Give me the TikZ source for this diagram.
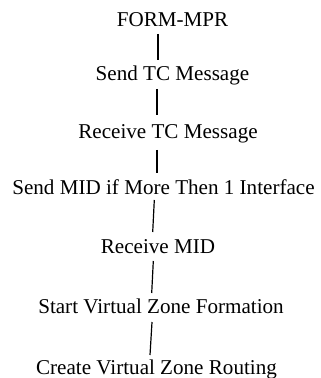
\documentclass[tikz,border=0pt]{standalone}
\usepackage{fontspec}
\setmainfont{Liberation Serif}
\begin{document}
\begin{tikzpicture}[x=.5pt,y=-.5pt,
        stage/.style={anchor=base,inner sep=0pt,font=\fontsize{10.55}{12}\selectfont},
        link/.style={line width=.6pt}]
                \useasboundingbox (0,0) rectangle (320,378);
                \node[stage] (form) at (172.5,27) {FORM-MPR};
                \node[stage] (sendtc) at (172.5,81) {Send TC Message};
                \node[stage] (recvtc) at (168,139) {Receive TC Message};
                \node[stage] (sendmid) at (163.5,195) {Send MID if More Then 1 Interface};
                \node[stage] (recvmid) at (158,253) {Receive MID};
                \node[stage] (zone) at (161,313) {Start Virtual Zone Formation};
                \node[stage] (routing) at (156.5,374) {Create Virtual Zone Routing};
                \draw[link] ([shift={(-14.5,7)}]form.base) -- ([shift={(-14.5,-21)}]sendtc.base);
                \draw[link] ([shift={(-15.5,8)}]sendtc.base) -- ([shift={(-11,-24)}]recvtc.base);
                \draw[link] ([shift={(-11,11)}]recvtc.base) -- ([shift={(-6.5,-22)}]sendmid.base);
                \draw[link] ([shift={(-9.2,5)}]sendmid.base) -- ([shift={(-5.3,-21)}]recvmid.base);
                \draw[link] ([shift={(-4.7,8)}]recvmid.base) -- ([shift={(-9.3,-20)}]zone.base);
                \draw[link] ([shift={(-9,9)}]zone.base) -- ([shift={(-6.5,-19)}]routing.base);
            \end{tikzpicture}
\end{document}
